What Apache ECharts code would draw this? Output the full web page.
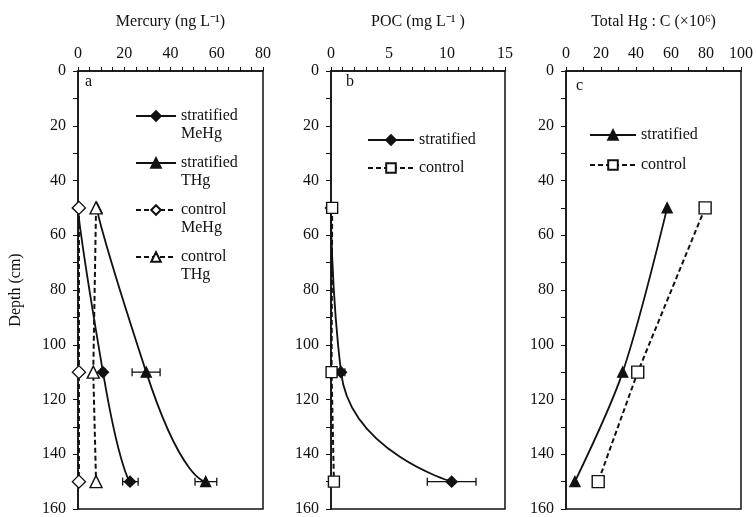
<!DOCTYPE html>
<html>
<head>
<meta charset="utf-8">
<script src="https://cdn.jsdelivr.net/npm/echarts@6/dist/echarts.min.js"></script>
<style>
  html, body { margin: 0; padding: 0; background: #fff; }
  #chart { width: 756px; height: 517px; }
</style>
</head>
<body>
<div id="chart"></div>
<script>
// depth of the samples (cm)
const depths = [50, 110, 150];

// panel a: mercury (ng/L)
const strMeHg = [0, 10.8, 22.5];
const strTHg = [8.2, 29.5, 55.2];
const ctlMeHg = [0.4, 0.4, 0.4];
const ctlTHg = [7.8, 6.6, 7.8];
// error bars [low, high, depth]
const errMeHg = [[9.8, 11.8, 110], [19.3, 26, 150]];
const errTHg = [[23.4, 35.5, 110], [50.6, 60, 150]];

// panel b: POC (mg/L)
const strPOC = [0, 0.86, 10.4];
const ctlPOC = [0.1, 0.05, 0.25];
const errPOC = [[0.5, 1.2, 110], [8.3, 12.5, 150]];

// panel c: Total Hg : C (x10^6)
const strRatio = [57.8, 32.4, 5.1];
const ctlRatio = [79.5, 41, 18.4];

const depthTicks = [0, 20, 40, 60, 80, 100, 120, 140, 160];

const pair = (vals) => vals.map((v, i) => [v, depths[i]]);
const font = 'Liberation Serif';
const ink = '#111';

const grids = [
  { left: 78, top: 71, width: 185, height: 438 },
  { left: 331, top: 71, width: 174, height: 438 },
  { left: 566, top: 71, width: 176, height: 438 }
].map(g => Object.assign(g, { show: true, borderColor: ink, borderWidth: 1.5, backgroundColor: 'transparent' }));

function xAxisFor(idx, name, max, interval, minorSplit) {
  return {
    gridIndex: idx, type: 'value', position: 'top', min: 0, max: max, interval: interval,
    name: name, nameLocation: 'middle', nameGap: 41,
    nameTextStyle: { fontFamily: font, fontSize: 16, color: ink },
    axisLine: { show: true, lineStyle: { color: ink, width: 1.5 } },
    axisTick: { show: true, inside: false, length: 4, lineStyle: { color: ink } },
    minorTick: { show: true, splitNumber: minorSplit, length: 4, lineStyle: { color: ink } },
    axisLabel: { fontFamily: font, fontSize: 16, color: ink, margin: 9 },
    splitLine: { show: false }
  };
}

function yAxisFor(idx, name) {
  return {
    gridIndex: idx, type: 'value', inverse: true, min: 0, max: 160, interval: 20,
    name: name, nameLocation: 'middle', nameGap: 54,
    nameTextStyle: { fontFamily: font, fontSize: 16, color: ink },
    axisLine: { show: true, lineStyle: { color: ink, width: 1.5 } },
    axisTick: { show: true, length: 5, lineStyle: { color: ink } },
    minorTick: { show: true, splitNumber: 2, length: 5, lineStyle: { color: ink } },
    axisLabel: {
      fontFamily: font, fontSize: 16, color: ink, margin: 12,
      formatter: v => depthTicks.includes(v) ? String(v) : ''
    },
    splitLine: { show: false }
  };
}

function errorSeries(idx, data) {
  return {
    type: 'custom', xAxisIndex: idx, yAxisIndex: idx, data: data, z: 1,
    silent: true,
    renderItem: (params, api) => {
      const a = api.coord([api.value(0), api.value(2)]);
      const b = api.coord([api.value(1), api.value(2)]);
      const style = { stroke: ink, lineWidth: 1.3 };
      return {
        type: 'group', children: [
          { type: 'line', shape: { x1: a[0], y1: a[1], x2: b[0], y2: b[1] }, style: style },
          { type: 'line', shape: { x1: a[0], y1: a[1] - 4, x2: a[0], y2: a[1] + 4 }, style: style },
          { type: 'line', shape: { x1: b[0], y1: b[1] - 4, x2: b[0], y2: b[1] + 4 }, style: style }
        ]
      };
    }
  };
}

function lineSeries(idx, name, vals, symbol, filled, dashed, smooth, size) {
  return {
    type: 'line', name: name, xAxisIndex: idx, yAxisIndex: idx,
    data: pair(vals), smooth: smooth, symbol: symbol, symbolSize: size,
    showAllSymbol: true,
    lineStyle: { color: ink, width: dashed ? 2 : 1.8, type: dashed ? [5, 3] : 'solid' },
    itemStyle: { color: filled ? ink : '#fff', borderColor: ink, borderWidth: 1.4 },
    z: filled ? 2 : 3
  };
}

const legendText = { fontFamily: font, fontSize: 16, color: ink, lineHeight: 18 };

const option = {
  animation: false,
  backgroundColor: '#fff',
  grid: grids,
  xAxis: [
    xAxisFor(0, 'Mercury (ng L⁻¹)', 80, 20, 4),
    xAxisFor(1, 'POC (mg L⁻¹ )', 15, 5, 5),
    xAxisFor(2, 'Total Hg : C (×10⁶)', 100, 20, 2)
  ],
  yAxis: [yAxisFor(0, 'Depth (cm)'), yAxisFor(1, ''), yAxisFor(2, '')],
  legend: [
    {
      data: ['stratified\nMeHg', 'stratified\nTHg', 'control\nMeHg', 'control\nTHg'],
      formatter: name => ' \n' + name,
      orient: 'vertical', left: 130, top: 84, itemWidth: 40, itemHeight: 12, itemGap: -7,
      textStyle: legendText
    },
    {
      data: ['stratified', 'control'],
      orient: 'vertical', left: 362, top: 126, itemWidth: 46, itemHeight: 12, itemGap: 10,
      textStyle: legendText
    },
    {
      data: ['stratified ', 'control '],
      orient: 'vertical', left: 584, top: 121, itemWidth: 46, itemHeight: 12, itemGap: 12,
      textStyle: legendText
    }
  ],
  graphic: [
    { type: 'text', left: 85, top: 74, style: { text: 'a', font: '16px "Liberation Serif"', fill: ink } },
    { type: 'text', left: 346, top: 74, style: { text: 'b', font: '16px "Liberation Serif"', fill: ink } },
    { type: 'text', left: 576, top: 78, style: { text: 'c', font: '16px "Liberation Serif"', fill: ink } }
  ],
  series: [
    errorSeries(0, errMeHg),
    errorSeries(0, errTHg),
    lineSeries(0, 'stratified\nMeHg', strMeHg, 'diamond', true, false, 0.9, 11),
    lineSeries(0, 'stratified\nTHg', strTHg, 'triangle', true, false, 1, 10),
    lineSeries(0, 'control\nMeHg', ctlMeHg, 'diamond', false, true, false, 13),
    lineSeries(0, 'control\nTHg', ctlTHg, 'triangle', false, true, false, 12),
    errorSeries(1, errPOC),
    lineSeries(1, 'stratified', strPOC, 'diamond', true, false, 0.6, 11),
    lineSeries(1, 'control', ctlPOC, 'rect', false, true, false, 11),
    lineSeries(2, 'stratified ', strRatio, 'triangle', true, false, 0.3, 10),
    lineSeries(2, 'control ', ctlRatio, 'rect', false, true, false, 12)
  ]
};

const chart = echarts.init(document.getElementById('chart'));
chart.setOption(option);
</script>
</body>
</html>
